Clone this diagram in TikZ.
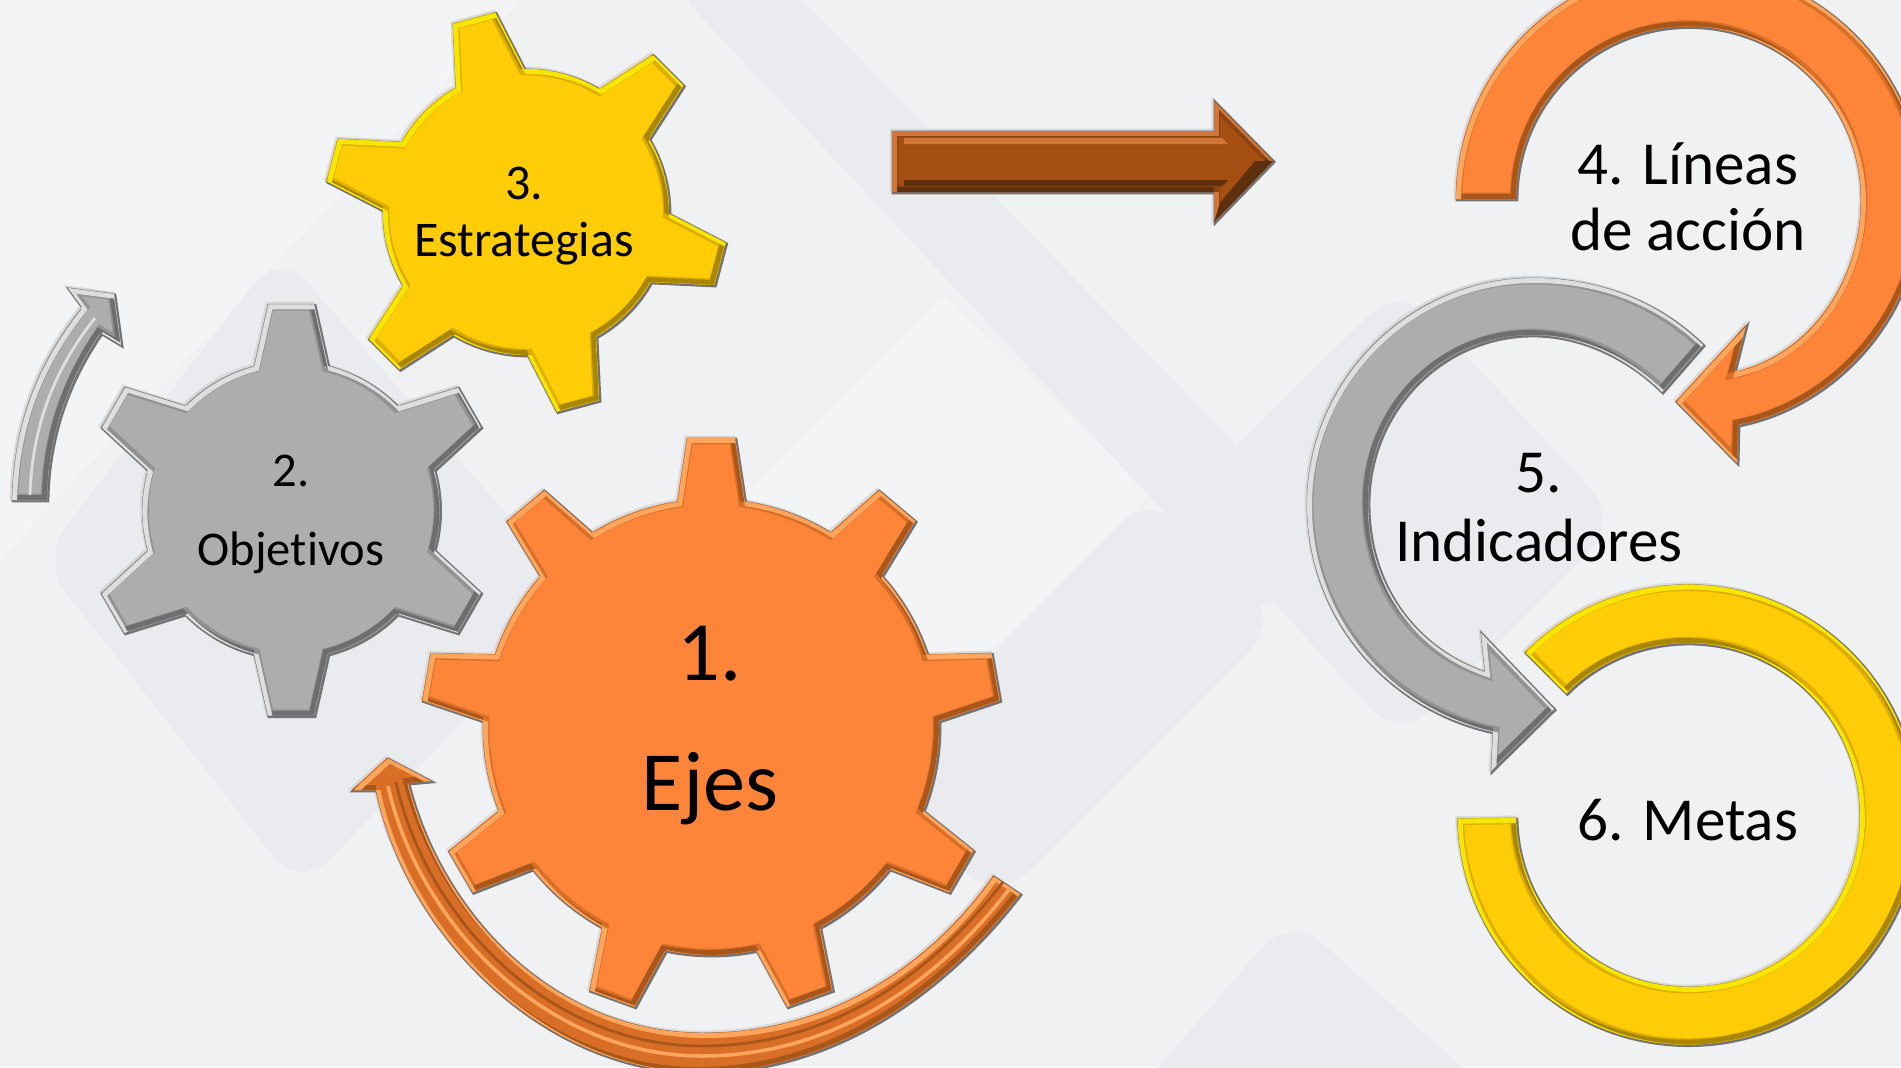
\documentclass[tikz,border=0pt]{standalone}
\usepackage{fontspec}
\setmainfont[Ligatures=NoCommon]{Carlito}
\definecolor{paper}{HTML}{F0F1F3}
\definecolor{bandlight}{HTML}{F3F4F6}
\definecolor{banddark}{HTML}{EAEBEE}
\definecolor{orangefill}{HTML}{FD8539}
\definecolor{orangelight}{HTML}{FFA65E}
\definecolor{orangedark}{HTML}{A9561B}
\definecolor{orangemid}{HTML}{D96F27}
\definecolor{greyfill}{HTML}{ADADAD}
\definecolor{greylight}{HTML}{DEDEDE}
\definecolor{greydark}{HTML}{6E6E6E}
\definecolor{greymid}{HTML}{929292}
\definecolor{yellowfill}{HTML}{FFCC08}
\definecolor{yellowlight}{HTML}{F7E600}
\definecolor{yellowdark}{HTML}{A98600}
\definecolor{yellowmid}{HTML}{DDAE00}
\definecolor{brownfill}{HTML}{A54F13}
\definecolor{brownlight}{HTML}{D0763A}
\definecolor{browndark}{HTML}{5F300D}
\definecolor{brownmid}{HTML}{8E4410}
\tikzset{
	rimlight/.style={draw=white!70!gray,line width=.8pt},
	rimdark/.style={draw=black!55,line width=.8pt},
	gearlabel/.style={align=center,text=black,inner sep=0pt}
}
\newcommand{\gearpath}[7]{
	([shift={#1}]#7+#5:#3)
	foreach \t [evaluate=\t as \a using #7-(\t-1)*360/#2] in {1,...,#2}{
		-- ([shift={#1}]\a+#6:#4)
		-- ([shift={#1}]\a-#6:#4)
		-- ([shift={#1}]\a-#5:#3)
		arc[start angle=\a-#5,delta angle=-360/#2+2*#5,radius=#3]
	} -- cycle
}
\newcommand{\bevel}[5]{
	\draw[rimlight,shift={(-1,1)}] #1;
	\draw[rimdark,shift={(1,-1)}] #1;
	\fill[#2] #1;
	\begin{scope}
		\clip #1;
		\draw[#5,line width=3.6pt] #1;
		\draw[#4,line width=1.4pt,shift={(-2.5,2.5)}] #1;
		\draw[#3,line width=1.4pt,shift={(2.5,-2.5)}] #1;
	\end{scope}
}
\begin{document}
\begin{tikzpicture}[x=.1mm,y=.1mm]
	\useasboundingbox (0,0) rectangle (1901,-1067);
	\clip (0,0) rectangle (1901,-1067);
	\fill[paper] (0,0) rectangle (1901,-1067);
	% background bands
	\fill[bandlight] (0,-560) -- (520,0) -- (0,0) -- cycle;
	\fill[bandlight] (945,-297) -- (1150,-493) -- (800,-840) -- (600,-640) -- cycle;
	\fill[banddark,rounded corners=12pt] (1400,-285) -- (1180,-500) -- (1400,-740) -- (1620,-520) -- cycle;
	\fill[banddark,rounded corners=12pt] (1150,-493) -- (1280,-620) -- (1000,-900) -- (860,-790) -- cycle;
	\fill[banddark,rounded corners=12pt] (667,20) -- (783,20) -- (1310,-520) -- (1270,-625) -- cycle;
	\fill[banddark,rounded corners=12pt] (1290,-915) -- (1130,-1100) -- (1500,-1100) -- cycle;
	\fill[banddark,rounded corners=12pt] (40,-560) -- (280,-250) -- (580,-600) -- (300,-890) -- cycle;
	% gears
	\bevel{\gearpath{(711,-727)}{9}{228}{290}{8.5}{4.75}{90}}{orangefill}{orangelight}{orangedark}{orangemid}
	\bevel{\gearpath{(291,-510)}{6}{148.6}{207}{14.4}{6.4}{90}}{greyfill}{greylight}{greydark}{greymid}
	\bevel{\gearpath{(526,-212)}{6}{143}{202}{14.3}{6.2}{105}}{yellowfill}{yellowlight}{yellowdark}{yellowmid}
	% arrows round the gears
	\bevel{(12,-500) .. controls (14,-430) and (32,-370) .. (82,-307) -- (68,-288) -- (114,-294) -- (121,-345) -- (101,-333) .. controls (72,-375) and (48,-430) .. (47,-500) -- cycle}{greyfill}{greylight}{greydark}{greymid}
	\draw[greylight,line width=.8pt] (30,-495) .. controls (32,-430) and (52,-372) .. (95,-318);
	\bevel{(1020,-894) .. controls (950,-985) and (840,-1072) .. (700,-1072) .. controls (540,-1072) and (405,-930) .. (376,-790) -- (352,-790) -- (387,-758) -- (431,-781) -- (408,-783) .. controls (440,-910) and (550,-1033) .. (703,-1033) .. controls (830,-1033) and (930,-965) .. (993,-876) -- cycle}{orangemid}{orangelight}{orangedark}{orangemid}
	\draw[orangelight,line width=1pt] (1010,-888) .. controls (940,-980) and (835,-1056) .. (702,-1056) .. controls (545,-1056) and (418,-922) .. (388,-786);
	\draw[orangedark,line width=.8pt] (1003,-882) .. controls (935,-970) and (835,-1046) .. (702,-1046) .. controls (548,-1046) and (426,-918) .. (396,-782);
	% brown arrow
	\bevel{(892,-131) -- (1214,-131) -- (1214,-101) -- (1273,-161) -- (1214,-222) -- (1214,-192) -- (892,-192) -- cycle}{brownfill}{brownlight}{browndark}{brownmid}
	\fill[brownlight] (904,-138) -- (1222,-138) -- (1228,-144) -- (904,-144) -- cycle;
	\fill[browndark] (904,-180) -- (1228,-180) -- (1222,-186) -- (904,-186) -- cycle;
	\fill[browndark] (1273,-161) -- (1214,-222) -- (1220,-203) -- (1255,-161) -- cycle;
	% rings
	\bevel{(1456,-199) arc[start angle=180,end angle=0,radius=233] .. controls (1921,-310) and (1840,-405) .. (1738,-425) -- (1737,-463) -- (1676,-401) -- (1746,-325) -- (1734,-372) .. controls (1810,-355) and (1861,-280) .. (1861,-199) arc[start angle=0,end angle=180,radius=172.5] -- cycle}{orangefill}{orangelight}{orangedark}{orangemid}
	\bevel{(1703,-345) .. controls (1657,-300) and (1597,-278) .. (1532,-278) .. controls (1408,-278) and (1307,-380) .. (1307,-503) .. controls (1307,-620) and (1390,-710) .. (1493,-732) -- (1491,-771) -- (1554,-709) -- (1481,-633) -- (1485,-672) .. controls (1420,-650) and (1368,-590) .. (1368,-503) .. controls (1368,-410) and (1442,-335) .. (1532,-335) .. controls (1583,-335) and (1630,-360) .. (1662,-392) -- cycle}{greyfill}{greylight}{greydark}{greymid}
	\bevel{(1525,-652) arc[start angle=135,end angle=-179,radius=230] -- (1516,-818) arc[start angle=181,end angle=495,radius=172] -- cycle}{yellowfill}{yellowlight}{yellowdark}{yellowmid}
	% labels
	\node[gearlabel,font=\fontsize{24}{37}\selectfont] (ejes) at (710,-726) {1.\\Ejes};
	\node[gearlabel,font=\fontsize{13.8}{22.5}\selectfont] (objetivos) at (291,-514) {2.\\Objetivos};
	\node[gearlabel,font=\fontsize{14.2}{16}\selectfont] (estrategias) at (524,-216) {3.\\Estrategias};
	\node[gearlabel,font=\fontsize{17.4}{18.8}\selectfont] (lineas) at (1688,-197) {4. Líneas\\de acción};
	\node[gearlabel,font=\fontsize{17.4}{19.6}\selectfont] (indicadores) at (1539,-508) {5.\\Indicadores};
	\node[gearlabel,font=\fontsize{17.4}{19.6}\selectfont] (metas) at (1688,-820) {6. Metas};
\end{tikzpicture}
\end{document}
